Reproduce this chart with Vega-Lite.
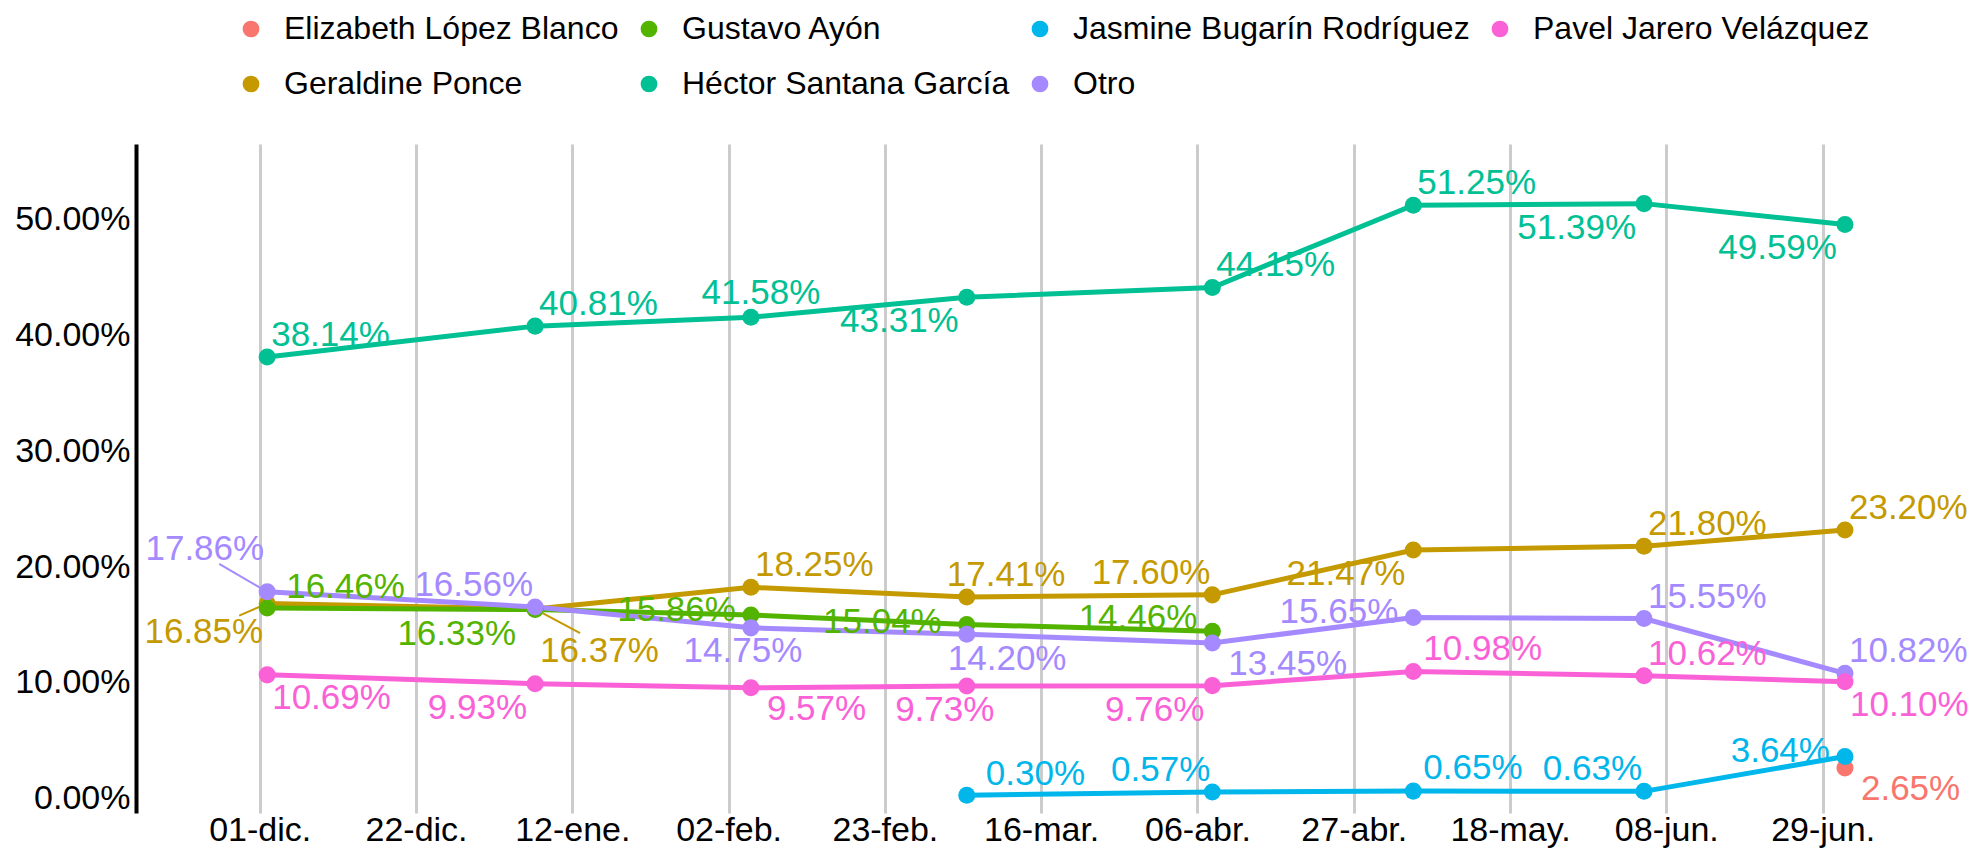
{
  "$schema": "https://vega.github.io/schema/vega-lite/v6.json",
  "width": 1833,
  "height": 669,
  "autosize": {"type": "none"},
  "padding": {"left": 136, "top": 144, "right": 0, "bottom": 35},
  "background": "white",
  "config": {
    "view": {"stroke": null},
    "font": "Liberation Sans",
    "text": {"font": "Liberation Sans"}
  },
  "data": {
    "values": [
      {"candidato": "Elizabeth López Blanco", "fecha": "2023-07-02", "pct": 2.65},
      {"candidato": "Geraldine Ponce", "fecha": "2022-12-02", "pct": 16.85},
      {"candidato": "Geraldine Ponce", "fecha": "2023-01-07", "pct": 16.37},
      {"candidato": "Geraldine Ponce", "fecha": "2023-02-05", "pct": 18.25},
      {"candidato": "Geraldine Ponce", "fecha": "2023-03-06", "pct": 17.41},
      {"candidato": "Geraldine Ponce", "fecha": "2023-04-08", "pct": 17.60},
      {"candidato": "Geraldine Ponce", "fecha": "2023-05-05", "pct": 21.47},
      {"candidato": "Geraldine Ponce", "fecha": "2023-06-05", "pct": 21.80},
      {"candidato": "Geraldine Ponce", "fecha": "2023-07-02", "pct": 23.20},
      {"candidato": "Gustavo Ayón", "fecha": "2022-12-02", "pct": 16.46},
      {"candidato": "Gustavo Ayón", "fecha": "2023-01-07", "pct": 16.33},
      {"candidato": "Gustavo Ayón", "fecha": "2023-02-05", "pct": 15.86},
      {"candidato": "Gustavo Ayón", "fecha": "2023-03-06", "pct": 15.04},
      {"candidato": "Gustavo Ayón", "fecha": "2023-04-08", "pct": 14.46},
      {"candidato": "Héctor Santana García", "fecha": "2022-12-02", "pct": 38.14},
      {"candidato": "Héctor Santana García", "fecha": "2023-01-07", "pct": 40.81},
      {"candidato": "Héctor Santana García", "fecha": "2023-02-05", "pct": 41.58},
      {"candidato": "Héctor Santana García", "fecha": "2023-03-06", "pct": 43.31},
      {"candidato": "Héctor Santana García", "fecha": "2023-04-08", "pct": 44.15},
      {"candidato": "Héctor Santana García", "fecha": "2023-05-05", "pct": 51.25},
      {"candidato": "Héctor Santana García", "fecha": "2023-06-05", "pct": 51.39},
      {"candidato": "Héctor Santana García", "fecha": "2023-07-02", "pct": 49.59},
      {"candidato": "Jasmine Bugarín Rodríguez", "fecha": "2023-03-06", "pct": 0.30},
      {"candidato": "Jasmine Bugarín Rodríguez", "fecha": "2023-04-08", "pct": 0.57},
      {"candidato": "Jasmine Bugarín Rodríguez", "fecha": "2023-05-05", "pct": 0.65},
      {"candidato": "Jasmine Bugarín Rodríguez", "fecha": "2023-06-05", "pct": 0.63},
      {"candidato": "Jasmine Bugarín Rodríguez", "fecha": "2023-07-02", "pct": 3.64},
      {"candidato": "Otro", "fecha": "2022-12-02", "pct": 17.86},
      {"candidato": "Otro", "fecha": "2023-01-07", "pct": 16.56},
      {"candidato": "Otro", "fecha": "2023-02-05", "pct": 14.75},
      {"candidato": "Otro", "fecha": "2023-03-06", "pct": 14.20},
      {"candidato": "Otro", "fecha": "2023-04-08", "pct": 13.45},
      {"candidato": "Otro", "fecha": "2023-05-05", "pct": 15.65},
      {"candidato": "Otro", "fecha": "2023-06-05", "pct": 15.55},
      {"candidato": "Otro", "fecha": "2023-07-02", "pct": 10.82},
      {"candidato": "Pavel Jarero Velázquez", "fecha": "2022-12-02", "pct": 10.69},
      {"candidato": "Pavel Jarero Velázquez", "fecha": "2023-01-07", "pct": 9.93},
      {"candidato": "Pavel Jarero Velázquez", "fecha": "2023-02-05", "pct": 9.57},
      {"candidato": "Pavel Jarero Velázquez", "fecha": "2023-03-06", "pct": 9.73},
      {"candidato": "Pavel Jarero Velázquez", "fecha": "2023-04-08", "pct": 9.76},
      {"candidato": "Pavel Jarero Velázquez", "fecha": "2023-05-05", "pct": 10.98},
      {"candidato": "Pavel Jarero Velázquez", "fecha": "2023-06-05", "pct": 10.62},
      {"candidato": "Pavel Jarero Velázquez", "fecha": "2023-07-02", "pct": 10.10}
    ]
  },
  "transform": [
    {"calculate": "format(datum.pct, '.2f') + '%'", "as": "lbl"}
  ],
  "encoding": {
    "x": {
      "field": "fecha",
      "type": "temporal",
      "scale": {
        "type": "utc",
        "domain": [
          {"year": 2022, "month": 11, "date": 14, "hours": 9, "utc": true},
          {"year": 2023, "month": 7, "date": 18, "hours": 16, "utc": true}
        ],
        "nice": false
      },
      "axis": {
        "title": null,
        "values": [
          {"year": 2022, "month": 12, "date": 1, "utc": true},
          {"year": 2022, "month": 12, "date": 22, "utc": true},
          {"year": 2023, "month": 1, "date": 12, "utc": true},
          {"year": 2023, "month": 2, "date": 2, "utc": true},
          {"year": 2023, "month": 2, "date": 23, "utc": true},
          {"year": 2023, "month": 3, "date": 16, "utc": true},
          {"year": 2023, "month": 4, "date": 6, "utc": true},
          {"year": 2023, "month": 4, "date": 27, "utc": true},
          {"year": 2023, "month": 5, "date": 18, "utc": true},
          {"year": 2023, "month": 6, "date": 8, "utc": true},
          {"year": 2023, "month": 6, "date": 29, "utc": true}
        ],
        "labelExpr": "utcFormat(datum.value, '%d') + '-' + ['ene','feb','mar','abr','may','jun','jul','ago','sep','oct','nov','dic'][utcmonth(datum.value)] + '.'",
        "ticks": false,
        "domain": false,
        "grid": true,
        "gridColor": "#cccccc",
        "gridWidth": 3,
        "labelFontSize": 34,
        "labelColor": "#000000",
        "labelPadding": 0,
        "labelFlush": false,
        "labelOverlap": false
      }
    },
    "y": {
      "field": "pct",
      "type": "quantitative",
      "scale": {"domain": [-1.24, 56.54], "nice": false, "zero": false},
      "axis": {
        "title": null,
        "values": [0, 10, 20, 30, 40, 50],
        "labelExpr": "format(datum.value, '.2f') + '%'",
        "ticks": false,
        "grid": false,
        "domain": true,
        "domainColor": "#000000",
        "domainWidth": 4,
        "labelFontSize": 34,
        "labelColor": "#000000",
        "labelPadding": 6
      }
    },
    "color": {
      "field": "candidato",
      "type": "nominal",
      "scale": {
        "domain": ["Elizabeth López Blanco", "Geraldine Ponce", "Gustavo Ayón", "Héctor Santana García", "Jasmine Bugarín Rodríguez", "Otro", "Pavel Jarero Velázquez"],
        "range": ["#F8766D", "#C49A00", "#53B400", "#00C094", "#00B6EB", "#A58AFF", "#FB61D7"]
      },
      "legend": {
        "orient": "none",
        "legendX": 99,
        "legendY": -131,
        "columns": 4,
        "title": null,
        "symbolType": "circle",
        "symbolSize": 280,
        "symbolStrokeWidth": 0,
        "symbolOpacity": 1,
        "labelFontSize": 32,
        "labelOffset": 17,
        "columnPadding": 14,
        "rowPadding": 23,
        "labelLimit": 800,
        "labelColor": "#000000",
        "padding": 0,
        "encode": {
          "symbols": {
            "update": {
              "fill": {"scale": "color", "field": "value"},
              "stroke": {"value": "transparent"},
              "opacity": {"value": 1}
            }
          }
        }
      }
    }
  },
  "layer": [
    {"mark": {"type": "line", "strokeWidth": 5}},
    {"transform": [{"filter": {"field": "pct", "oneOf": [17.86]}}],
     "mark": {"type": "rule", "strokeWidth": 2, "x2Offset": -48, "y2Offset": -28},
     "encoding": {"x2": {"field": "fecha"}, "y2": {"field": "pct"}}},
    {"transform": [{"filter": {"field": "pct", "oneOf": [16.85]}}],
     "mark": {"type": "rule", "strokeWidth": 2, "x2Offset": -28, "y2Offset": 12},
     "encoding": {"x2": {"field": "fecha"}, "y2": {"field": "pct"}}},
    {"transform": [{"filter": {"field": "pct", "oneOf": [16.37]}}],
     "mark": {"type": "rule", "strokeWidth": 2, "x2Offset": 45, "y2Offset": 24},
     "encoding": {"x2": {"field": "fecha"}, "y2": {"field": "pct"}}},
    {"mark": {"type": "point", "filled": true, "size": 290, "opacity": 1, "shape": "circle"}},
    {"transform": [{"filter": {"field": "pct", "oneOf": [38.14, 40.81, 44.15, 51.25, 18.25, 21.8, 23.2, 15.55, 10.82, 10.62]}}],
     "mark": {"type": "text", "align": "left", "baseline": "middle", "dx": 4, "dy": -22, "fontSize": 35},
     "encoding": {"text": {"field": "lbl"}}},
    {"transform": [{"filter": {"field": "pct", "oneOf": [10.98, 0.65]}}],
     "mark": {"type": "text", "align": "left", "baseline": "middle", "dx": 10, "dy": -23, "fontSize": 35},
     "encoding": {"text": {"field": "lbl"}}},
    {"transform": [{"filter": {"field": "pct", "oneOf": [16.46, 0.3]}}],
     "mark": {"type": "text", "align": "left", "baseline": "middle", "dx": 19, "dy": -21, "fontSize": 35},
     "encoding": {"text": {"field": "lbl"}}},
    {"transform": [{"filter": {"field": "pct", "oneOf": [10.69, 10.1]}}],
     "mark": {"type": "text", "align": "left", "baseline": "middle", "dx": 5, "dy": 23, "fontSize": 35},
     "encoding": {"text": {"field": "lbl"}}},
    {"transform": [{"filter": {"field": "pct", "oneOf": [9.57, 2.65, 13.45]}}],
     "mark": {"type": "text", "align": "left", "baseline": "middle", "dx": 16, "dy": 21, "fontSize": 35},
     "encoding": {"text": {"field": "lbl"}}},
    {"transform": [{"filter": {"field": "pct", "oneOf": [14.2]}}],
     "mark": {"type": "text", "align": "left", "baseline": "middle", "dx": -19, "dy": 25, "fontSize": 35},
     "encoding": {"text": {"field": "lbl"}}},
    {"transform": [{"filter": {"field": "pct", "oneOf": [17.41]}}],
     "mark": {"type": "text", "align": "left", "baseline": "middle", "dx": -20, "dy": -22, "fontSize": 35},
     "encoding": {"text": {"field": "lbl"}}},
    {"transform": [{"filter": {"field": "pct", "oneOf": [43.31, 51.39, 49.59, 21.47, 9.93, 9.76]}}],
     "mark": {"type": "text", "align": "right", "baseline": "middle", "dx": -8, "dy": 24, "fontSize": 35},
     "encoding": {"text": {"field": "lbl"}}},
    {"transform": [{"filter": {"field": "pct", "oneOf": [16.33]}}],
     "mark": {"type": "text", "align": "right", "baseline": "middle", "dx": -19, "dy": 24, "fontSize": 35},
     "encoding": {"text": {"field": "lbl"}}},
    {"transform": [{"filter": {"field": "pct", "oneOf": [16.56, 17.6, 0.57, 0.63]}}],
     "mark": {"type": "text", "align": "right", "baseline": "middle", "dx": -2, "dy": -22, "fontSize": 35},
     "encoding": {"text": {"field": "lbl"}}},
    {"transform": [{"filter": {"field": "pct", "oneOf": [15.86, 15.65, 3.64]}}],
     "mark": {"type": "text", "align": "right", "baseline": "middle", "dx": -15, "dy": -5, "fontSize": 35},
     "encoding": {"text": {"field": "lbl"}}},
    {"transform": [{"filter": {"field": "pct", "oneOf": [15.04]}}],
     "mark": {"type": "text", "align": "right", "baseline": "middle", "dx": -25, "dy": -3, "fontSize": 35},
     "encoding": {"text": {"field": "lbl"}}},
    {"transform": [{"filter": {"field": "pct", "oneOf": [14.46]}}],
     "mark": {"type": "text", "align": "right", "baseline": "middle", "dx": -15, "dy": -13, "fontSize": 35},
     "encoding": {"text": {"field": "lbl"}}},
    {"transform": [{"filter": {"field": "pct", "oneOf": [41.58]}}],
     "mark": {"type": "text", "align": "center", "baseline": "middle", "dx": 10, "dy": -24, "fontSize": 35},
     "encoding": {"text": {"field": "lbl"}}},
    {"transform": [{"filter": {"field": "pct", "oneOf": [14.75]}}],
     "mark": {"type": "text", "align": "center", "baseline": "middle", "dx": -8, "dy": 23, "fontSize": 35},
     "encoding": {"text": {"field": "lbl"}}},
    {"transform": [{"filter": {"field": "pct", "oneOf": [9.73]}}],
     "mark": {"type": "text", "align": "center", "baseline": "middle", "dx": -22, "dy": 24, "fontSize": 35},
     "encoding": {"text": {"field": "lbl"}}},
    {"transform": [{"filter": {"field": "pct", "oneOf": [17.86]}}],
     "mark": {"type": "text", "align": "right", "baseline": "middle", "dx": -3, "dy": -43, "fontSize": 35},
     "encoding": {"text": {"field": "lbl"}}},
    {"transform": [{"filter": {"field": "pct", "oneOf": [16.85]}}],
     "mark": {"type": "text", "align": "right", "baseline": "middle", "dx": -4, "dy": 28, "fontSize": 35},
     "encoding": {"text": {"field": "lbl"}}},
    {"transform": [{"filter": {"field": "pct", "oneOf": [16.37]}}],
     "mark": {"type": "text", "align": "left", "baseline": "middle", "dx": 5, "dy": 42, "fontSize": 35},
     "encoding": {"text": {"field": "lbl"}}}
  ]
}
